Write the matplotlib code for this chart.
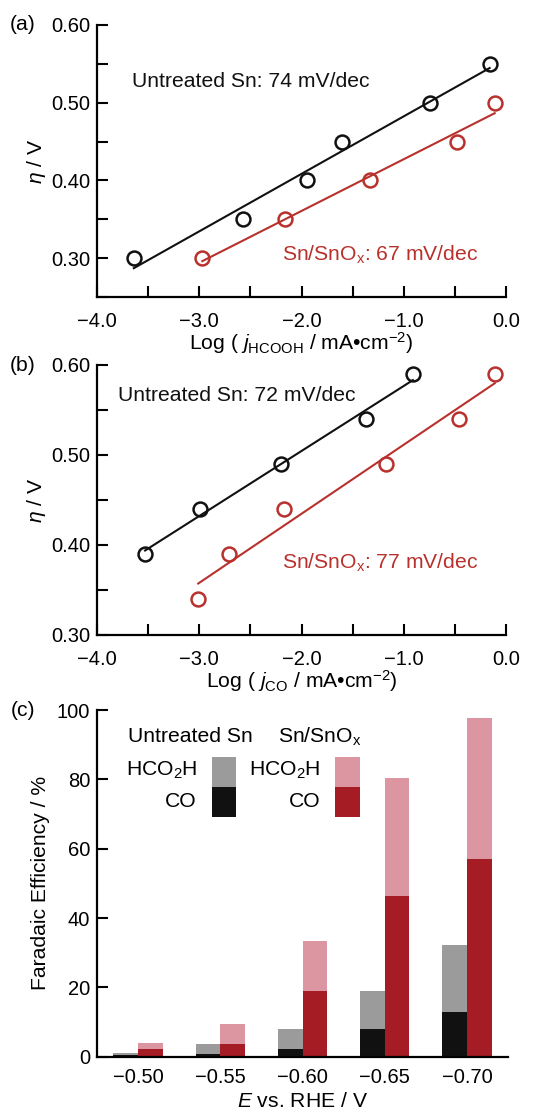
import numpy as np
import matplotlib.pyplot as plt
from matplotlib.ticker import MultipleLocator, FuncFormatter
from matplotlib.patches import Rectangle

plt.rcParams['font.family'] = ['Liberation Sans', 'DejaVu Sans']
plt.rcParams['mathtext.fontset'] = 'custom'
plt.rcParams['mathtext.rm'] = 'Liberation Sans'
plt.rcParams['mathtext.it'] = 'Liberation Sans:italic'

# ---- data (a): Tafel, HCOOH ----
a_sn_x = [-3.64, -2.57, -1.95, -1.60, -0.74, -0.16]
a_sn_y = [0.30, 0.35, 0.40, 0.45, 0.50, 0.55]
a_ox_x = [-2.97, -2.16, -1.33, -0.48, -0.11]
a_ox_y = [0.30, 0.35, 0.40, 0.45, 0.50]

# ---- data (b): Tafel, CO ----
b_sn_x = [-3.53, -2.99, -2.20, -1.37, -0.91]
b_sn_y = [0.39, 0.44, 0.49, 0.54, 0.59]
b_ox_x = [-3.01, -2.71, -2.17, -1.17, -0.46, -0.11]
b_ox_y = [0.34, 0.39, 0.44, 0.49, 0.54, 0.59]

# ---- data (c): Faradaic efficiency ----
potentials = ['−0.50', '−0.55', '−0.60', '−0.65', '−0.70']
sn_co = [0.5, 0.7, 2.2, 7.9, 12.8]
sn_total = [1.0, 3.6, 8.0, 18.9, 32.2]
ox_co = [2.2, 3.8, 19.0, 46.3, 57.0]
ox_total = [4.0, 9.3, 33.4, 80.3, 97.8]

BLACK = '#111111'
RED = '#b8312c'
GRAY = '#9b9b9b'
PINK = '#dc96a2'
DARKRED = '#a51c24'
FS = 15.2     # annotations / labels
TFS = 14.5    # tick labels

fig = plt.figure(figsize=(5.51, 11.13), dpi=100)
W, H = 551, 1113


def box(left, top, right, bottom):
    return [left / W, 1 - bottom / H, (right - left) / W, (bottom - top) / H]


def fmt(d):
    return FuncFormatter(lambda v, p: ('%.*f' % (d, v)).replace('-', '−'))


def style(ax):
    for s in ['top', 'right']:
        ax.spines[s].set_visible(False)
    for s in ['left', 'bottom']:
        ax.spines[s].set_linewidth(1.6)
    ax.tick_params(which='both', direction='in', length=8, width=1.5,
                   labelsize=TFS, pad=5)


def tafel(ax, sets, ylim, texts, xlabel_sub):
    for x, y, c in sets:
        x = np.array(x)
        y = np.array(y)
        k, b = np.polyfit(x, y, 1)
        xx = np.array([x.min(), x.max()])
        ax.plot(xx, k * xx + b, color=c, lw=1.5)
        ax.plot(x, y, 'o', mfc='none', mec=c, mew=1.8, ms=10)
    ax.set_xlim(-4.0, 0.0)
    ax.set_ylim(*ylim)
    ax.xaxis.set_major_locator(MultipleLocator(1.0))
    ax.xaxis.set_minor_locator(MultipleLocator(0.5))
    ax.yaxis.set_major_locator(MultipleLocator(0.1))
    ax.yaxis.set_minor_locator(MultipleLocator(0.05))
    ax.xaxis.set_major_formatter(fmt(1))
    ax.yaxis.set_major_formatter(fmt(2))
    style(ax)
    ax.tick_params(axis='x', which='major', pad=11)
    ax.set_ylabel(r'$\eta$ / V', fontsize=FS, labelpad=2)
    ax.set_xlabel(r'Log ( $j_{\mathrm{%s}}$ / mA•cm$^{−2}$)' % xlabel_sub,
                  fontsize=FS, labelpad=-1)
    for tx, ty, s, c in texts:
        ax.text(tx, ty, s, color=c, fontsize=FS, va='center', ha='left')
    for l in ax.get_xticklabels() + ax.get_yticklabels():
        l.set_clip_on(False)


# (a)
ax1 = fig.add_axes(box(97, 25, 506, 297))
tafel(ax1, [(a_sn_x, a_sn_y, BLACK), (a_ox_x, a_ox_y, RED)], (0.25, 0.60),
      [(-3.66, 0.527, 'Untreated Sn: 74 mV/dec', BLACK),
       (-2.19, 0.304, r'Sn/SnO$_\mathrm{x}$: 67 mV/dec', RED)], 'HCOOH')
fig.text(23 / W, 1 - 25 / H, '(a)', fontsize=FS, ha='center', va='center')

# (b)
ax2 = fig.add_axes(box(97, 365, 506, 635))
tafel(ax2, [(b_sn_x, b_sn_y, BLACK), (b_ox_x, b_ox_y, RED)], (0.30, 0.60),
      [(-3.79, 0.566, 'Untreated Sn: 72 mV/dec', BLACK),
       (-2.19, 0.380, r'Sn/SnO$_\mathrm{x}$: 77 mV/dec', RED)], 'CO')
fig.text(23 / W, 1 - 365 / H, '(b)', fontsize=FS, ha='center', va='center')

# (c)
ax3 = fig.add_axes(box(97, 710, 508, 1056.7))
xpos = np.arange(len(potentials))
bw = 0.3
sn_h = np.array(sn_total) - np.array(sn_co)
ox_h = np.array(ox_total) - np.array(ox_co)
ax3.bar(xpos - bw / 2, sn_co, bw, color=BLACK, lw=0)
ax3.bar(xpos - bw / 2, sn_h, bw, bottom=sn_co, color=GRAY, lw=0)
ax3.bar(xpos + bw / 2, ox_co, bw, color=DARKRED, lw=0)
ax3.bar(xpos + bw / 2, ox_h, bw, bottom=ox_co, color=PINK, lw=0)
ax3.set_xlim(-0.5, 4.5)
ax3.set_ylim(0, 100)
ax3.set_xticks(xpos)
ax3.set_xticklabels(potentials)
ax3.yaxis.set_major_locator(MultipleLocator(20))
style(ax3)
ax3.tick_params(axis='x', length=0, pad=8)
ax3.set_ylabel('Faradaic Efficiency / %', fontsize=FS, labelpad=5)
ax3.set_xlabel(r'$E$ vs. RHE / V', fontsize=FS, va='bottom')
ax3.xaxis.set_label_coords(0.5, -(1111 - 1056.7) / 346.7)
fig.text(23 / W, 1 - 710 / H, '(c)', fontsize=FS, ha='center', va='center')

# legend in (c)
T = ax3.transAxes
lw_, lh_ = 24.5 / 411, 29.5 / 346.7
ax3.text(30.5 / 411, 1 - 26.7 / 346.7, 'Untreated Sn', transform=T,
         fontsize=FS, va='center', ha='left')
ax3.text(181 / 411, 1 - 26.7 / 346.7, r'Sn/SnO$_\mathrm{x}$', transform=T,
         fontsize=FS, va='center', ha='left')
for x0, lab_x, c_top, c_bot in [(114.7, 100, GRAY, BLACK), (238, 223, PINK, DARKRED)]:
    ax3.add_patch(Rectangle((x0 / 411, 1 - 76.7 / 346.7), lw_, lh_,
                            transform=T, color=c_top, lw=0))
    ax3.add_patch(Rectangle((x0 / 411, 1 - 106.7 / 346.7), lw_, lh_,
                            transform=T, color=c_bot, lw=0))
    ax3.text(lab_x / 411, 1 - 60 / 346.7, r'HCO$_2$H', transform=T,
             fontsize=FS, va='center', ha='right')
    ax3.text(lab_x / 411, 1 - 91.7 / 346.7, 'CO', transform=T,
             fontsize=FS, va='center', ha='right')

fig.savefig('out.png', dpi=100)
